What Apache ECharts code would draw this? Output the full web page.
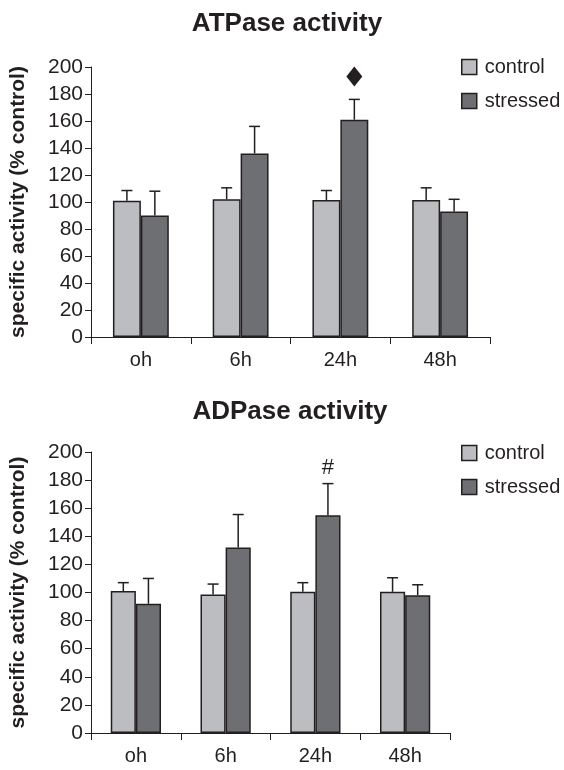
<!DOCTYPE html>
<html>
<head>
<meta charset="utf-8">
<script src="https://cdn.jsdelivr.net/npm/echarts@6/dist/echarts.min.js"></script>
<style>
html,body{margin:0;padding:0;background:#fff;}
#chart{width:564px;height:770px;}
</style>
</head>
<body>
<div id="chart"></div>
<script>
const categories = ['oh', '6h', '24h', '48h'];
const seriesNames = ['control', 'stressed'];
const titles = ['ATPase activity', 'ADPase activity'];

// ATPase
const atpControl = [101, 102, 101.5, 101.5];
const atpControlErrTop = [108.5, 110.5, 108.5, 110.5];
const atpStressed = [90, 136, 161, 93];
const atpStressedErrTop = [108, 156, 176, 102];
const atpMarks = [[2, 193, 'diamond']];

// ADPase
const adpControl = [101, 98.5, 100.5, 100.5];
const adpControlErrTop = [107, 106, 107, 110.5];
const adpStressed = [92, 132, 155, 98];
const adpStressedErrTop = [110, 155.5, 177.5, 105.5];
const adpMarks = [[2, 189, '#']];

const yMin = 0, yMax = 200, yStep = 20;

const INK = '#231f20';
const C_CTRL = '#bcbdc1';
const C_STR = '#6e6f73';
const FONT = '"Liberation Sans", Arial, Helvetica, sans-serif';
const BAR_FRAC = 0.28;

const chart = echarts.init(document.getElementById('chart'), null, {renderer: 'canvas'});

function errData(vals, tops) {
  return vals.map((v, i) => [i, v, tops[i]]);
}

function errRender(sign) {
  return function (params, api) {
    const cat = api.value(0);
    const p0 = api.coord([cat, api.value(1)]);
    const p1 = api.coord([cat, api.value(2)]);
    const bw = api.size([1, 0])[0] * BAR_FRAC;
    const x = p0[0] + sign * bw / 2;
    const cap = 5.5;
    return {
      type: 'group',
      children: [
        {type: 'line', shape: {x1: x, y1: p0[1], x2: x, y2: p1[1]}, style: {stroke: INK, lineWidth: 1.5}},
        {type: 'line', shape: {x1: x - cap, y1: p1[1], x2: x + cap, y2: p1[1]}, style: {stroke: INK, lineWidth: 1.5}}
      ]
    };
  };
}

function markRender(params, api) {
  const cat = api.value(0);
  const p = api.coord([cat, api.value(1)]);
  const bw = api.size([1, 0])[0] * BAR_FRAC;
  const x = p[0] + bw / 2;
  const kind = api.value(2);
  if (kind === 'diamond') {
    return {type: 'polygon', shape: {points: [[x, p[1] - 10], [x + 8, p[1]], [x, p[1] + 10], [x - 8, p[1]]]}, style: {fill: INK}};
  }
  return {type: 'text', x: x, y: p[1], style: {text: kind, fill: INK, font: '22px ' + FONT, align: 'center', verticalAlign: 'middle'}};
}

const grids = [
  {left: 89, top: 67, width: 401, height: 270},
  {left: 89, top: 452, width: 361, height: 281}
];

const datasets = [
  {ctrl: atpControl, ctrlErr: atpControlErrTop, str: atpStressed, strErr: atpStressedErrTop, marks: atpMarks},
  {ctrl: adpControl, ctrlErr: adpControlErrTop, str: adpStressed, strErr: adpStressedErrTop, marks: adpMarks}
];

const legendBase = {
  data: seriesNames, orient: 'vertical', itemWidth: 15, itemHeight: 15, itemGap: 14, icon: 'rect',
  itemStyle: {borderColor: INK, borderWidth: 1.5},
  textStyle: {fontSize: 20, color: INK, fontFamily: FONT, padding: [0, 0, 0, 3]}, selectedMode: false
};

const option = {
  backgroundColor: '#fff',
  animation: false,
  textStyle: {fontFamily: FONT},
  title: [
    {text: titles[0], left: 282, top: 6, textAlign: 'center', textStyle: {fontSize: 26, fontWeight: 'bold', color: INK, fontFamily: FONT}},
    {text: titles[1], left: 285, top: 394, textAlign: 'center', textStyle: {fontSize: 26, fontWeight: 'bold', color: INK, fontFamily: FONT}}
  ],
  legend: [
    Object.assign({left: 456, top: 52}, legendBase),
    Object.assign({left: 456, top: 438}, legendBase)
  ],
  grid: grids,
  xAxis: grids.map((g, i) => ({
    type: 'category', gridIndex: i, data: categories,
    axisLine: {lineStyle: {color: INK, width: 1}},
    axisTick: {show: true, alignWithLabel: false, length: 7, lineStyle: {color: INK}},
    axisLabel: {fontSize: 20, color: INK, margin: 13, fontFamily: FONT}
  })),
  yAxis: grids.map((g, i) => ({
    type: 'value', gridIndex: i, min: yMin, max: yMax, interval: yStep,
    name: 'specific activity (% control)', nameLocation: 'middle', nameGap: 62, nameRotate: 90,
    nameTextStyle: {fontSize: 21, fontWeight: 'bold', color: INK, fontFamily: FONT},
    axisLine: {show: true, lineStyle: {color: INK, width: 1}},
    axisTick: {show: true, length: 6, lineStyle: {color: INK}},
    axisLabel: {fontSize: 21, color: INK, margin: 8, fontFamily: FONT},
    splitLine: {show: false}
  })),
  series: []
};

datasets.forEach((d, i) => {
  option.series.push(
    {name: 'control', type: 'bar', xAxisIndex: i, yAxisIndex: i, data: d.ctrl, barWidth: (BAR_FRAC * 100) + '%', barGap: '0%',
     itemStyle: {color: C_CTRL, borderColor: INK, borderWidth: 1.5}},
    {name: 'stressed', type: 'bar', xAxisIndex: i, yAxisIndex: i, data: d.str, barWidth: (BAR_FRAC * 100) + '%', barGap: '0%',
     itemStyle: {color: C_STR, borderColor: INK, borderWidth: 1.5}},
    {type: 'custom', xAxisIndex: i, yAxisIndex: i, data: errData(d.ctrl, d.ctrlErr), renderItem: errRender(-1), encode: {x: 0, y: [1, 2]}, z: 3},
    {type: 'custom', xAxisIndex: i, yAxisIndex: i, data: errData(d.str, d.strErr), renderItem: errRender(1), encode: {x: 0, y: [1, 2]}, z: 3},
    {type: 'custom', xAxisIndex: i, yAxisIndex: i, data: d.marks, renderItem: markRender, encode: {x: 0, y: 1}, z: 4}
  );
});

chart.setOption(option);
</script>
</body>
</html>
